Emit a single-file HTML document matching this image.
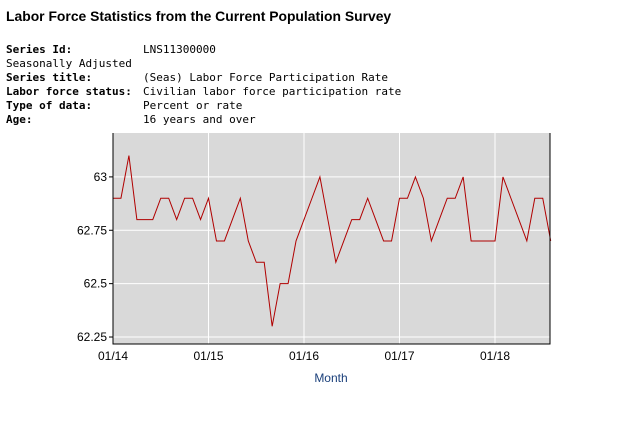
<!DOCTYPE html>
<html><head><meta charset="utf-8"><style>
body{margin:0;width:638px;height:438px;background:#fff;font-family:"Liberation Sans",sans-serif;overflow:hidden;position:relative}
#title{position:absolute;left:6px;top:8px;font-size:13.9px;font-weight:bold;color:#000}
#meta{position:absolute;left:6px;top:43px;font-family:"DejaVu Sans Mono","Liberation Mono",monospace;font-size:11px;line-height:14px;color:#000}
#meta b{display:inline-block;width:137px}
</style></head><body>
<div id="title">Labor Force Statistics from the Current Population Survey</div>
<div id="meta">
<div><b>Series Id:</b>LNS11300000</div>
<div>Seasonally Adjusted</div>
<div><b>Series title:</b>(Seas) Labor Force Participation Rate</div>
<div><b>Labor force status:</b>Civilian labor force participation rate</div>
<div><b>Type of data:</b>Percent or rate</div>
<div><b>Age:</b>16 years and over</div>
</div>
<svg id="chart" width="638" height="438" style="position:absolute;left:0;top:0"></svg>
<script>
const values=[62.9,62.9,63.1,62.8,62.8,62.8,62.9,62.9,62.8,62.9,62.9,62.8,
62.9,62.7,62.7,62.8,62.9,62.7,62.6,62.6,62.3,62.5,62.5,62.7,
62.8,62.9,63.0,62.8,62.6,62.7,62.8,62.8,62.9,62.8,62.7,62.7,
62.9,62.9,63.0,62.9,62.7,62.8,62.9,62.9,63.0,62.7,62.7,62.7,
62.7,63.0,62.9,62.8,62.7,62.9,62.9,62.7];
const yTicks=[62.25,62.5,62.75,63];
const yTickLabels=["62.25","62.5","62.75","63"];
const xTickIdx=[0,12,24,36,48];
const xTickLabels=["01/14","01/15","01/16","01/17","01/18"];
const svg=document.getElementById('chart');const NS="http://www.w3.org/2000/svg";
const L=113,R=550,T=133,B=344,x0=113,dx=(495-113)/48;
const yMin=62.25-7/214,yMax=63+44/214;
const X=i=>x0+i*dx;
const Y=v=>B-(v-yMin)/(yMax-yMin)*(B-T);
function mk(t,a){const e=document.createElementNS(NS,t);for(const k in a)e.setAttribute(k,a[k]);svg.appendChild(e);return e;}
const bg=mk('rect',{x:L,y:T,width:R-L,height:B-T,fill:'#d9d9d9'});


yTicks.forEach((v,i)=>{
 const g=mk('line',{x1:L,x2:R,y1:Y(v),y2:Y(v),stroke:'#fff','stroke-width':1});
 
 
 mk('line',{x1:L-4,x2:L,y1:Y(v),y2:Y(v),stroke:'#000'});
 const t=mk('text',{x:L-6,y:Y(v)+4,'text-anchor':'end','font-size':12,'font-family':'Liberation Sans, sans-serif'});
 t.textContent=yTickLabels[i];
 
 
});
xTickIdx.forEach((m,i)=>{
 const g=mk('line',{x1:X(m),x2:X(m),y1:T,y2:B,stroke:'#fff','stroke-width':1});
 
 
 const t=mk('text',{x:X(m),y:B+16,'text-anchor':'middle','font-size':12,'font-family':'Liberation Sans, sans-serif'});
 t.textContent=xTickLabels[i];
 
 
});
const ln=mk('polyline',{points:values.map((v,i)=>X(i)+','+Y(v)).join(' '),fill:'none',stroke:'#b00000','stroke-width':1});


const ax=mk('path',{d:`M${L},${T}V${B}H${R}V${T}`,fill:'none',stroke:'#000','stroke-width':1});


const xt=mk('text',{x:331,y:382,'text-anchor':'middle','font-size':12,fill:'#1a3f7a','font-family':'Liberation Sans, sans-serif'});
xt.textContent='Month';


</script>
</body></html>
